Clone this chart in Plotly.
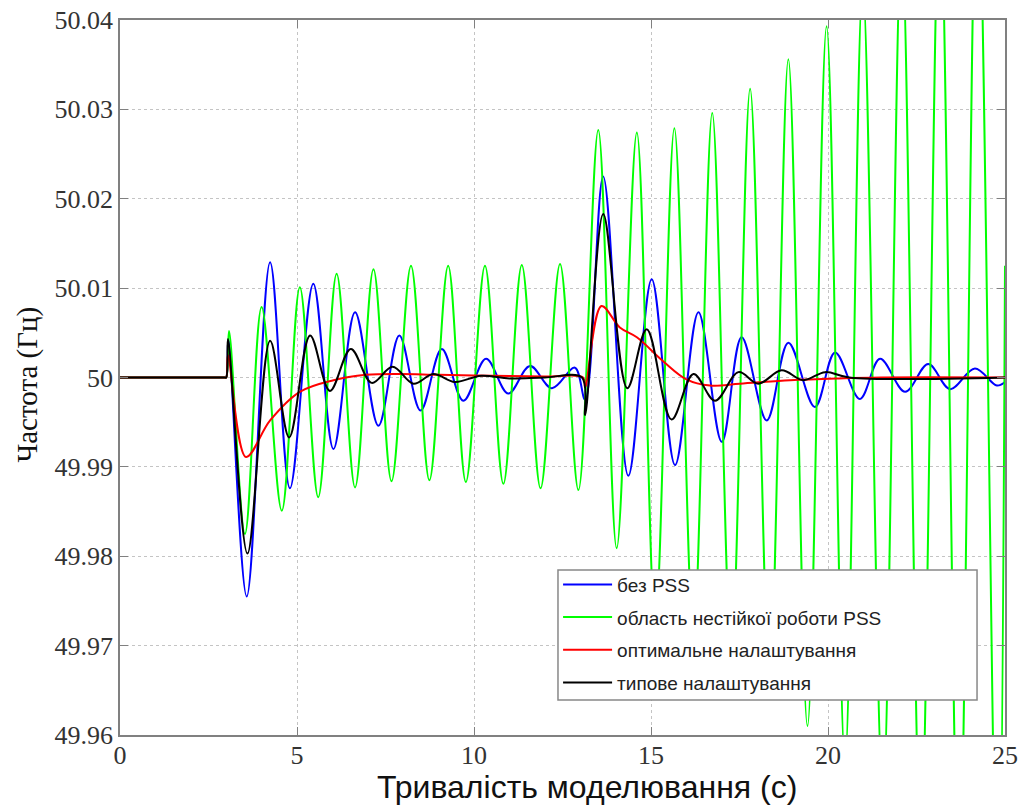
import plotly.graph_objects as go

# ---- data (extrema of each curve) ----
t_blue = [0, 2.95, 3.0, 3.06, 3.58, 4.24, 4.80, 5.46, 6.03, 6.64, 7.30, 7.89, 8.49, 9.09, 9.70,
          10.34, 10.97, 11.58, 12.20, 12.85, 13.14, 13.65, 14.36, 15.02, 15.68, 16.34, 17.00,
          17.56, 18.27, 18.88, 19.63, 20.20, 20.90, 21.47, 22.18, 22.83, 23.45, 24.15, 24.77, 25.0]
v_blue = [50.0, 50.0, 50.0, 50.0043, 49.9755, 50.0129, 49.9876, 50.0105, 49.9920, 50.0073, 49.9946,
          50.0047, 49.9963, 50.0032, 49.9974, 50.0021, 49.9982, 50.0013, 49.9988, 50.0011,
          49.9975, 50.0225, 49.9890, 50.0110, 49.9902, 50.0073, 49.9928, 50.0045, 49.9952,
          50.0039, 49.9967, 50.0028, 49.9976, 50.0021, 49.9984, 50.0015, 49.9987, 50.0010,
          49.9991, 49.9995]

t_green = [0, 2.95, 3.0, 3.08, 3.53, 4.00, 4.57, 5.08, 5.60, 6.12, 6.64, 7.16, 7.67, 8.22, 8.74,
           9.27, 9.77, 10.31, 10.83, 11.35, 11.88, 12.43, 12.95, 13.51, 14.03, 14.60, 15.12,
           15.66, 16.20, 16.73, 17.27, 17.80, 18.35, 18.88, 19.42, 19.96, 20.48, 20.98, 21.55,
           22.08, 22.62, 23.16, 23.70, 24.22, 24.80, 25.0]
v_green = [50.0, 50.0, 50.0, 50.0052, 49.9825, 50.0079, 49.9851, 50.0101, 49.9866, 50.0116, 49.9877,
           50.0121, 49.9884, 50.0125, 49.9885, 50.0125, 49.9883, 50.0125, 49.9881, 50.0126,
           49.9876, 50.0127, 49.9874, 50.0277, 49.9809, 50.0274, 49.9725, 50.0279, 49.9710,
           50.0296, 49.9690, 50.0323, 49.9660, 50.0356, 49.9610, 50.0393, 49.9570, 50.0440,
           49.9530, 50.0490, 49.9480, 50.0540, 49.9430, 50.0590, 49.9350, 50.0125]

t_red = [0, 2.95, 3.0, 3.05, 3.56, 4.24, 5.08, 6.03, 6.95, 7.90, 9.0, 10.5, 12.0, 13.08, 13.14,
         13.60, 14.12, 14.60, 15.35, 16.00, 16.67, 17.51, 18.93, 20.30, 21.50, 25.0]
v_red = [50.0, 50.0, 50.0, 50.0025, 49.9911, 49.9952, 49.9984, 49.9997, 50.0003, 50.0004, 50.0003,
         50.0002, 50.0001, 50.0, 49.9989, 50.0080, 50.0056, 50.0045, 50.0018, 49.9998,
         49.9991, 49.9993, 49.9997, 49.9999, 50.0, 50.0]

t_black = [0, 2.95, 3.0, 3.05, 3.60, 4.24, 4.78, 5.37, 5.93, 6.52, 7.11, 7.70, 8.29, 8.85, 9.46,
           10.2, 11.0, 12.0, 13.05, 13.14, 13.65, 14.33, 14.88, 15.58, 16.20, 16.81, 17.47,
           18.03, 18.69, 19.30, 19.92, 20.6, 25.0]
v_black = [50.0, 50.0, 50.0, 50.0043, 49.9803, 50.0041, 49.9933, 50.0047, 49.9985, 50.0032, 49.9994,
           50.0012, 49.9993, 50.0004, 49.9995, 50.0002, 49.9999, 50.0, 50.0, 49.9958, 50.0183,
           49.9988, 50.0054, 49.9953, 50.0004, 49.9974, 50.0006, 49.9993, 50.0008, 49.9997,
           50.0006, 50.0, 50.0]

series_names = ["без PSS", "область нестійкої роботи PSS",
                "оптимальне налаштування", "типове налаштування"]
series_colors = ["#0000ff", "#00ff00", "#ff0000", "#000000"]

x_ticks = [0, 5, 10, 15, 20, 25]
y_ticks = [49.96, 49.97, 49.98, 49.99, 50.0, 50.01, 50.02, 50.03, 50.04]
y_tick_text = ["49.96", "49.97", "49.98", "49.99", "50", "50.01", "50.02", "50.03", "50.04"]

x_title = "Тривалість моделювання (с)"
y_title = "Частота (Гц)"

# ---- figure ----
fig = go.Figure()
all_t = [t_blue, t_green, t_red, t_black]
all_v = [v_blue, v_green, v_red, v_black]
for i in range(4):
    fig.add_trace(go.Scatter(
        x=all_t[i], y=all_v[i], mode="lines", name=series_names[i],
        legendgroup=str(i),
        line=dict(color=series_colors[i], width=2, shape="spline", smoothing=1.0),
    ))

axis_common = dict(
    showline=True, linecolor="#808080", linewidth=1.5, mirror="ticks",
    ticks="inside", ticklen=8, tickcolor="#808080", tickwidth=1.2,
    showgrid=True, gridcolor="#c4c4c4", griddash="dot", gridwidth=1.2,
    zeroline=False, automargin=False, ticklabeloverflow="allow",
    tickfont=dict(family="Liberation Serif", size=26, color="#333333"),
)

fig.update_xaxes(range=[0, 25.00001], tickvals=x_ticks, ticklabelstandoff=-4, **axis_common)
fig.update_yaxes(range=[49.9599999, 50.0400001], tickvals=y_ticks, ticktext=y_tick_text,
                 **axis_common)

# legend frame (box wider than its text, as in the reference)
fig.add_shape(type="rect", xref="paper", yref="paper",
              x0=0.4949, x1=0.9684, y0=0.049, y1=0.2308,
              fillcolor="white", line=dict(color="#888888", width=1.5), layer="above")

fig.add_annotation(text=x_title, xref="paper", yref="paper", x=0.528, y=-0.073,
                   xanchor="center", yanchor="middle", showarrow=False,
                   font=dict(family="Liberation Sans", size=32, color="#111111"))
fig.add_annotation(text=y_title, xref="paper", yref="paper", x=-0.104, y=0.49,
                   xanchor="center", yanchor="middle", showarrow=False, textangle=-90,
                   font=dict(family="Liberation Serif", size=29, color="#111111"))

fig.update_layout(
    width=1024, height=807,
    margin=dict(l=120, r=19, t=20, b=72),
    paper_bgcolor="white", plot_bgcolor="white",
    showlegend=True,
    legend=dict(
        x=0.495, y=0.237, xanchor="left", yanchor="top",
        bgcolor="rgba(0,0,0,0)", borderwidth=0,
        font=dict(family="Liberation Sans", size=19, color="#222222"),
        traceorder="grouped", tracegroupgap=5, itemwidth=49,
    ),
)

fig.write_html("out.html",
               config={"displayModeBar": False},
               post_script="document.body.style.margin='0px';document.body.style.overflow='hidden';")
